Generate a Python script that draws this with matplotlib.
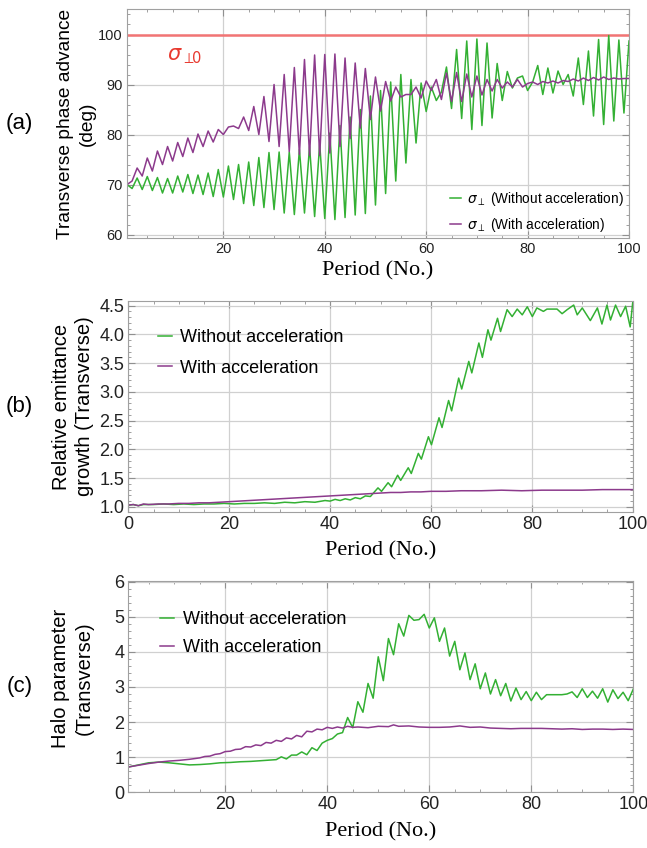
import matplotlib
matplotlib.use("Agg")
import matplotlib.pyplot as plt
from matplotlib.ticker import MultipleLocator, FormatStrFormatter

plt.rcParams['font.family'] = ['Liberation Sans', 'DejaVu Sans']

# ---- (a) transverse phase advance, one value per period
period_a = list(range(1, 101))
phase_without_acc = [
    70.0, 69.2, 71.3, 69.0, 71.6, 68.8, 71.4, 68.3, 71.2, 68.3,
    71.7, 68.5, 72.0, 68.2, 71.9, 68.0, 72.3, 67.6, 73.0, 67.5,
    73.7, 67.0, 74.0, 66.2, 74.5, 65.8, 75.4, 65.4, 76.4, 65.0,
    76.5, 64.3, 76.5, 64.0, 77.0, 64.3, 77.6, 63.6, 78.2, 63.2,
    80.3, 63.0, 81.8, 63.4, 83.5, 63.9, 85.0, 64.2, 87.7, 65.9,
    88.8, 68.2, 90.5, 70.7, 92.0, 74.3, 91.0, 78.3, 90.3, 84.6,
    89.5, 86.8, 88.5, 93.5, 85.2, 97.0, 83.2, 98.7, 81.0, 99.1,
    81.8, 98.3, 83.3, 94.2, 86.8, 92.6, 89.3, 91.3, 91.7, 88.8,
    90.5, 93.8, 88.0, 93.3, 88.3, 92.7, 90.0, 92.0, 87.7, 95.3,
    86.0, 96.7, 83.7, 99.0, 82.0, 99.8, 82.7, 98.9, 84.3, 98.7]
phase_with_acc = [
    70.0, 70.7, 73.3, 71.7, 75.3, 72.7, 76.7, 74.0, 77.6, 74.7,
    78.4, 75.6, 79.3, 76.4, 80.1, 77.6, 80.7, 78.5, 81.0, 80.0,
    81.5, 81.7, 81.2, 83.5, 80.8, 85.6, 80.0, 87.6, 78.6, 90.0,
    77.6, 92.0, 76.6, 93.4, 76.0, 95.0, 75.8, 95.9, 75.8, 96.0,
    76.3, 96.1, 77.6, 95.3, 79.2, 94.3, 81.3, 93.2, 83.0, 91.5,
    84.7, 90.6, 86.7, 89.5, 87.5, 88.0, 88.0, 89.5, 87.3, 90.7,
    88.8, 91.0, 87.0, 92.3, 86.6, 92.4, 86.6, 92.1, 87.5, 91.7,
    87.9, 91.0, 88.7, 91.0, 89.3, 90.5, 89.5, 91.0, 89.5, 90.2,
    90.5, 90.0, 90.6, 90.3, 90.7, 90.3, 90.8, 90.6, 91.1, 90.7,
    91.3, 90.8, 91.4, 90.9, 91.5, 91.0, 91.3, 91.1, 91.2, 91.2]
sigma_0 = 100

# ---- (b) relative emittance growth
emit_without_x = [0, 1, 2, 3, 5, 7, 9, 11, 13, 15, 17, 19, 21, 23, 25, 27, 29, 31, 33, 35,
                  37, 39, 40, 41, 42, 43, 44, 45, 46, 47, 48, 49.5, 50.2, 51.5, 52.2, 53.4,
                  54.0, 55.5, 56.1, 57.5, 58.1, 59.5, 60.1, 61.6, 62.2, 63.5, 64.1, 65.5,
                  66.1, 67.5, 68.1, 69.5, 70.2, 71.3, 71.9, 73.2, 73.8, 75.1, 76.1, 77.1,
                  78.1, 79.1, 80.1, 81.0, 82.3, 83.0, 85.0, 86.0, 87.0, 88.3, 89.0, 90.0,
                  91.6, 93.0, 93.9, 94.9, 95.6, 96.6, 97.6, 98.6, 99.5, 100]
emit_without = [1.03, 1.04, 1.02, 1.04, 1.04, 1.05, 1.04, 1.05, 1.04, 1.05, 1.05, 1.06,
                1.05, 1.06, 1.06, 1.07, 1.06, 1.08, 1.07, 1.09, 1.08, 1.11, 1.10, 1.13,
                1.11, 1.14, 1.12, 1.16, 1.14, 1.19, 1.18, 1.33, 1.27, 1.42, 1.35, 1.55,
                1.46, 1.68, 1.58, 1.93, 1.83, 2.22, 2.08, 2.55, 2.38, 2.85, 2.67, 3.24,
                3.05, 3.53, 3.33, 3.85, 3.60, 4.08, 3.90, 4.28, 4.05, 4.43, 4.31, 4.44,
                4.34, 4.48, 4.31, 4.46, 4.40, 4.44, 4.44, 4.36, 4.43, 4.51, 4.34, 4.46,
                4.24, 4.46, 4.18, 4.51, 4.25, 4.51, 4.31, 4.49, 4.13, 4.55]
emit_with_x = [0, 1, 2, 3, 4, 6, 8, 10, 12, 14, 16, 18, 20, 22, 24, 26, 28, 30, 32, 34, 36,
               38, 40, 42, 44, 46, 48, 50, 52, 54, 56, 58, 60, 63, 66, 70, 74, 78, 82, 86,
               90, 94, 97, 100]
emit_with = [1.03, 1.04, 1.02, 1.05, 1.04, 1.05, 1.05, 1.06, 1.06, 1.07, 1.07, 1.08, 1.09,
             1.10, 1.11, 1.12, 1.13, 1.14, 1.15, 1.16, 1.17, 1.18, 1.19, 1.20, 1.21, 1.22,
             1.23, 1.24, 1.25, 1.25, 1.26, 1.26, 1.27, 1.27, 1.28, 1.28, 1.29, 1.28, 1.29,
             1.29, 1.29, 1.30, 1.30, 1.30]

# ---- (c) halo parameter
halo_without_x = [1, 3, 5, 7, 9, 11, 13, 15, 17, 19, 21, 23, 25, 27, 29] + list(range(30, 101))
halo_without = [0.72, 0.78, 0.84, 0.86, 0.84, 0.81, 0.78, 0.79, 0.81, 0.84, 0.85, 0.87,
                0.88, 0.90, 0.92,
                0.93, 1.01, 0.95, 1.06, 1.06, 1.15, 1.07, 1.27, 1.19, 1.40,
                1.48, 1.53, 1.66, 1.70, 2.13, 1.84, 2.58, 2.28, 3.10, 2.68,
                3.86, 3.18, 4.38, 3.92, 4.80, 4.45, 5.04, 4.90, 4.92, 5.07,
                4.68, 4.97, 4.30, 4.68, 3.88, 4.30, 3.49, 3.97, 3.21, 3.66,
                2.95, 3.40, 2.80, 3.21, 2.75, 3.10, 2.60, 2.97, 2.64, 2.87,
                2.61, 2.85, 2.64, 2.78, 2.78, 2.78, 2.78, 2.80, 2.86, 2.70,
                2.95, 2.70, 2.88, 2.68, 2.95, 2.57, 2.92, 2.67, 2.85, 2.61, 2.94]
halo_with_x = [1, 3, 5, 7, 9, 11, 13, 15, 16, 17, 18, 19, 20, 21, 22, 23, 24, 25, 26, 27,
               28, 29, 30, 31, 32, 33, 34, 35, 36, 37, 38, 39, 40, 41, 42, 43, 44, 45, 46,
               48, 50, 52, 53, 54, 56, 58, 60, 62, 64, 66, 68, 70, 72, 74, 76, 78, 80, 82,
               84, 86, 88, 90, 92, 94, 96, 98, 100]
halo_with = [0.72, 0.77, 0.82, 0.86, 0.89, 0.91, 0.94, 0.98, 1.02, 1.03, 1.08, 1.10, 1.16,
             1.17, 1.22, 1.23, 1.30, 1.29, 1.35, 1.33, 1.42, 1.40, 1.48, 1.45, 1.55, 1.52,
             1.62, 1.58, 1.74, 1.72, 1.80, 1.78, 1.85, 1.82, 1.86, 1.83, 1.88, 1.85, 1.86,
             1.84, 1.88, 1.87, 1.92, 1.88, 1.89, 1.86, 1.85, 1.85, 1.86, 1.89, 1.85, 1.86,
             1.83, 1.82, 1.81, 1.82, 1.82, 1.82, 1.81, 1.80, 1.81, 1.79, 1.80, 1.80, 1.79,
             1.80, 1.79]

GREEN = '#33b033'
PURPLE = '#8c3a8c'
SERIF = ['Liberation Serif', 'DejaVu Serif']


def style_axes(ax, tick_size):
    for spine in ax.spines.values():
        spine.set_color('#a0a0a0')
    ax.tick_params(which='both', direction='in', top=True, right=True,
                   color='#909090', labelsize=tick_size, labelcolor='#222222')
    ax.tick_params(which='major', length=5, pad=3)
    ax.tick_params(which='minor', length=2.5)
    ax.grid(True, which='major', color='#d0d0d0', lw=0.9)
    ax.set_axisbelow(True)


def panel_label(fig, ax, text):
    pos = ax.get_position()
    fig.text(0.03, pos.y0 + pos.height / 2, text, fontsize=16, ha='center', va='center')


fig = plt.figure(figsize=(6.47, 8.48), dpi=100)

# (a)
ax1 = fig.add_axes([0.1963, 0.7193, 0.7759, 0.2695])
ax1.axhline(sigma_0, color='#f27474', lw=1.8)
ax1.plot(period_a, phase_without_acc, color=GREEN, lw=1.1,
         label=r'$\sigma_{\perp}$ (Without acceleration)')
ax1.plot(period_a, phase_with_acc, color=PURPLE, lw=1.1,
         label=r'$\sigma_{\perp}$ (With acceleration)')
ax1.text(12.4, 95.6, r'$\sigma_{\perp\!\!0}$', color='#e83a30', fontsize=15,
         ha='center', va='center')
ax1.set_xlim(1, 100)
ax1.set_ylim(59.3, 105)
ax1.xaxis.set_major_locator(MultipleLocator(20))
ax1.xaxis.set_minor_locator(MultipleLocator(5))
ax1.yaxis.set_major_locator(MultipleLocator(10))
ax1.yaxis.set_minor_locator(MultipleLocator(2))
style_axes(ax1, 10.5)
ax1.set_ylabel('Transverse phase advance\n(deg)', fontsize=13.8, linespacing=1.4)
ax1.yaxis.set_label_coords(-0.062, 0.5)
ax1.set_xlabel('Period (No.)', fontsize=16, family=SERIF)
ax1.xaxis.set_label_coords(0.5, -0.1)
ax1.legend(loc='upper left', bbox_to_anchor=(0.63, 0.24), frameon=False,
           fontsize=9.8, borderpad=0, handlelength=0.8, handletextpad=0.45,
           labelspacing=0.6)
panel_label(fig, ax1, '(a)')

# (b)
ax2 = fig.add_axes([0.1983, 0.3962, 0.7796, 0.2488])
ax2.plot(emit_without_x, emit_without, color=GREEN, lw=1.1, label='Without acceleration')
ax2.plot(emit_with_x, emit_with, color=PURPLE, lw=1.1, label='With acceleration')
ax2.set_xlim(0, 100)
ax2.set_ylim(0.91, 4.58)
ax2.xaxis.set_major_locator(MultipleLocator(20))
ax2.xaxis.set_minor_locator(MultipleLocator(5))
ax2.yaxis.set_major_locator(MultipleLocator(0.5))
ax2.yaxis.set_minor_locator(MultipleLocator(0.1))
ax2.yaxis.set_major_formatter(FormatStrFormatter('%.1f'))
style_axes(ax2, 13)
ax2.set_ylabel('Relative emittance\ngrowth (Transverse)', fontsize=14.5, linespacing=1.3)
ax2.yaxis.set_label_coords(-0.068, 0.5)
ax2.set_xlabel('Period (No.)', fontsize=16, family=SERIF)
ax2.xaxis.set_label_coords(0.5, -0.14)
ax2.legend(loc='upper left', bbox_to_anchor=(0.04, 0.91), frameon=False,
           fontsize=13, borderpad=0, handlelength=0.8, handletextpad=0.45,
           labelspacing=0.75)
panel_label(fig, ax2, '(b)')

# (c)
ax3 = fig.add_axes([0.1983, 0.0657, 0.7805, 0.2492])
ax3.plot(halo_without_x, halo_without, color=GREEN, lw=1.1, label='Without acceleration')
ax3.plot(halo_with_x, halo_with, color=PURPLE, lw=1.1, label='With acceleration')
ax3.set_xlim(1, 100)
ax3.set_ylim(0, 6.02)
ax3.xaxis.set_major_locator(MultipleLocator(20))
ax3.xaxis.set_minor_locator(MultipleLocator(5))
ax3.yaxis.set_major_locator(MultipleLocator(1))
ax3.yaxis.set_minor_locator(MultipleLocator(0.2))
style_axes(ax3, 13)
ax3.set_ylabel('Halo parameter\n(Transverse)', fontsize=14.5, linespacing=1.3)
ax3.yaxis.set_label_coords(-0.068, 0.54)
ax3.set_xlabel('Period (No.)', fontsize=16, family=SERIF)
ax3.xaxis.set_label_coords(0.5, -0.14)
ax3.legend(loc='upper left', bbox_to_anchor=(0.045, 0.90), frameon=False,
           fontsize=13, borderpad=0, handlelength=0.8, handletextpad=0.45,
           labelspacing=0.6)
panel_label(fig, ax3, '(c)')

fig.savefig('out.png', dpi=100)
